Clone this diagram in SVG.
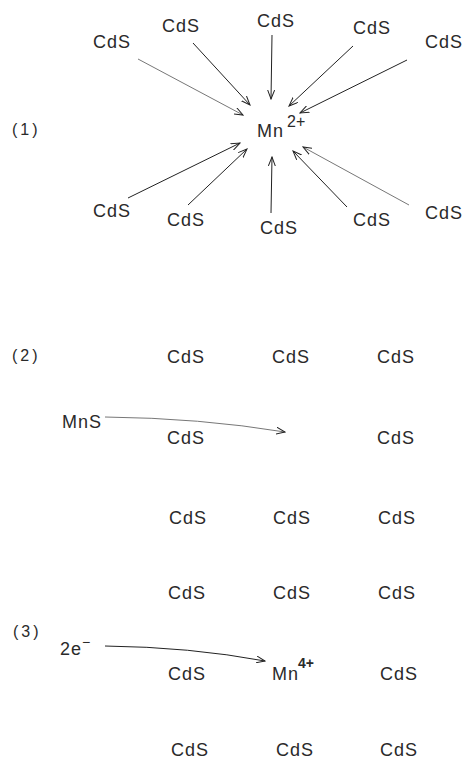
<svg xmlns="http://www.w3.org/2000/svg" width="464" height="761" viewBox="0 0 464 761">
<style>
text{font-family:"Liberation Sans",Arial,sans-serif;fill:#2a2a2a}
.c{font-size:18px;letter-spacing:1px}
.lb{font-size:16px;letter-spacing:3px}
.sup{font-size:14px}
.a{fill:none;stroke:#222;stroke-width:1}
.f{stroke:#777}
</style>
<defs>
<marker id="ah" viewBox="0 0 10 8" refX="9" refY="4" markerWidth="10" markerHeight="8" markerUnits="userSpaceOnUse" orient="auto">
<path d="M0,0.5 L9,4 L0,7.5" fill="none" stroke="#222" stroke-width="1"/>
</marker>
</defs>
<rect width="464" height="761" fill="#fff"/>
<g id="labels">
<text class="lb" x="12" y="135">(1)</text>
<text class="lb" x="12" y="361">(2)</text>
<text class="lb" x="13" y="637">(3)</text>
</g>
<g id="mn2">
<text class="c" x="257" y="137">Mn</text>
<text class="sup" x="287" y="127" style="font-size:16px">2+</text>
</g>
<g id="top">
<text class="c" x="93" y="48">CdS</text>
<text class="c" x="162" y="32">CdS</text>
<text class="c" x="257" y="27">CdS</text>
<text class="c" x="353" y="34">CdS</text>
<text class="c" x="425" y="48">CdS</text>
</g>
<g id="bottom">
<text class="c" x="93" y="217">CdS</text>
<text class="c" x="167" y="226">CdS</text>
<text class="c" x="260" y="234">CdS</text>
<text class="c" x="353" y="226">CdS</text>
<text class="c" x="425" y="219">CdS</text>
</g>
<g id="grid2">
<text class="c" x="167" y="363">CdS</text>
<text class="c" x="272" y="363">CdS</text>
<text class="c" x="377" y="363">CdS</text>
<text class="c" x="62" y="428">MnS</text>
<text class="c" x="167" y="444">CdS</text>
<text class="c" x="377" y="444">CdS</text>
<text class="c" x="169" y="524">CdS</text>
<text class="c" x="273" y="524">CdS</text>
<text class="c" x="378" y="524">CdS</text>
</g>
<g id="grid3">
<text class="c" x="168" y="599">CdS</text>
<text class="c" x="273" y="599">CdS</text>
<text class="c" x="378" y="599">CdS</text>
<text class="c" x="60" y="655">2e</text>
<text class="sup" x="82" y="647">−</text>
<text class="c" x="168" y="680">CdS</text>
<text class="c" x="272" y="680">Mn</text>
<text class="sup" x="298" y="668" font-weight="bold">4+</text>
<text class="c" x="380" y="680">CdS</text>
<text class="c" x="171" y="756">CdS</text>
<text class="c" x="276" y="756">CdS</text>
<text class="c" x="380" y="756">CdS</text>
</g>
<g id="connectors">
<line class="a f" x1="138" y1="59" x2="243" y2="115" marker-end="url(#ah)"/>
<line class="a" x1="193" y1="43" x2="250" y2="105" marker-end="url(#ah)"/>
<line class="a" x1="272" y1="35" x2="271" y2="99" marker-end="url(#ah)"/>
<line class="a" x1="353" y1="46" x2="289" y2="106" marker-end="url(#ah)"/>
<line class="a" x1="407" y1="60" x2="300" y2="113" marker-end="url(#ah)"/>
<line class="a" x1="128" y1="198" x2="240" y2="143" marker-end="url(#ah)"/>
<line class="a" x1="188" y1="205" x2="247" y2="149" marker-end="url(#ah)"/>
<line class="a" x1="271" y1="213" x2="272" y2="157" marker-end="url(#ah)"/>
<line class="a" x1="347" y1="207" x2="293" y2="151" marker-end="url(#ah)"/>
<line class="a f" x1="409" y1="205" x2="303" y2="147" marker-end="url(#ah)"/>
<path class="a f" d="M105,417 Q200,418 285,432" marker-end="url(#ah)"/>
<path class="a" d="M105,646 Q190,647 265,661" marker-end="url(#ah)"/>
</g>
</svg>
